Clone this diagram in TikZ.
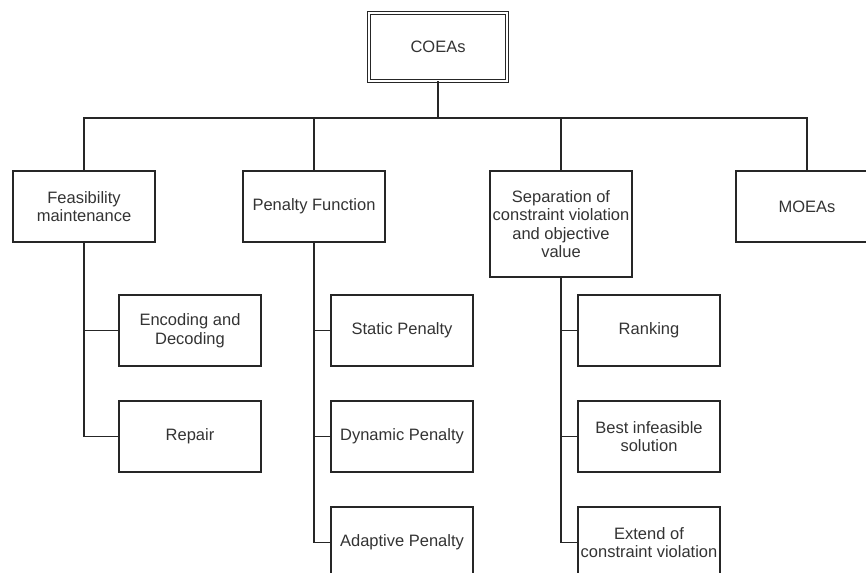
\documentclass[tikz,border=0pt]{standalone}
\usepackage{fontspec}
\setmainfont{Liberation Sans}
\definecolor{linegray}{rgb}{0.15,0.15,0.15}
\definecolor{textgray}{rgb}{0.2,0.2,0.2}

\begin{document}
\begin{tikzpicture}[x=1pt, y=-1pt,
    box/.style={draw=linegray, line width=1.2pt, text=textgray, align=center,
        minimum width=142pt, minimum height=71pt, inner sep=2pt,
        font=\fontsize{16.5}{18.5}\selectfont},
    rootbox/.style={box, double, double distance=2pt, line width=0.9pt,
        minimum width=138pt, minimum height=68pt},
    link/.style={draw=linegray, line width=1.2pt}]
    \useasboundingbox (0,0) rectangle (866,572);
    \clip (0,0) rectangle (866,572);

    % root and first level
    \node[rootbox] (coeas) at (438,47) {COEAs};
    \coordinate (bus) at (438,118);

    \node[box] (feas) at (84,206.5) {Feasibility\\maintenance};
    \node[box] (penalty) at (314,206.5) {Penalty Function};
    \node[box, minimum height=106pt] (separ) at (561,224)
        {Separation of\\constraint violation\\and objective\\value};
    \node[box] (moeas) at (807,206.5) {MOEAs};

    \draw[link] (coeas.south) -- (bus);
    \draw[link] (feas.north) -- (feas.north |- bus) -| (moeas.north);
    \draw[link] (penalty.north) -- (penalty.north |- bus);
    \draw[link] (separ.north) -- (separ.north |- bus);

    % second level
    \node[box] (encode) at (190,330.5) {Encoding and\\Decoding};
    \node[box] (repair) at (190,436.5) {Repair};

    \node[box] (static) at (402,330.5) {Static Penalty};
    \node[box] (dynamic) at (402,436.5) {Dynamic Penalty};
    \node[box] (adaptive) at (402,542.5) {Adaptive Penalty};

    \node[box] (ranking) at (649,330.5) {Ranking};
    \node[box] (bestinf) at (649,436.5) {Best infeasible\\solution};
    \node[box] (extend) at (649,542.5) {Extend of\\constraint violation};

    \draw[link] (feas.south) |- (encode.west);
    \draw[link] (feas.south) |- (repair.west);

    \draw[link] (penalty.south) |- (static.west);
    \draw[link] (penalty.south) |- (dynamic.west);
    \draw[link] (penalty.south) |- (adaptive.west);

    \draw[link] (separ.south) |- (ranking.west);
    \draw[link] (separ.south) |- (bestinf.west);
    \draw[link] (separ.south) |- (extend.west);
\end{tikzpicture}
\end{document}
